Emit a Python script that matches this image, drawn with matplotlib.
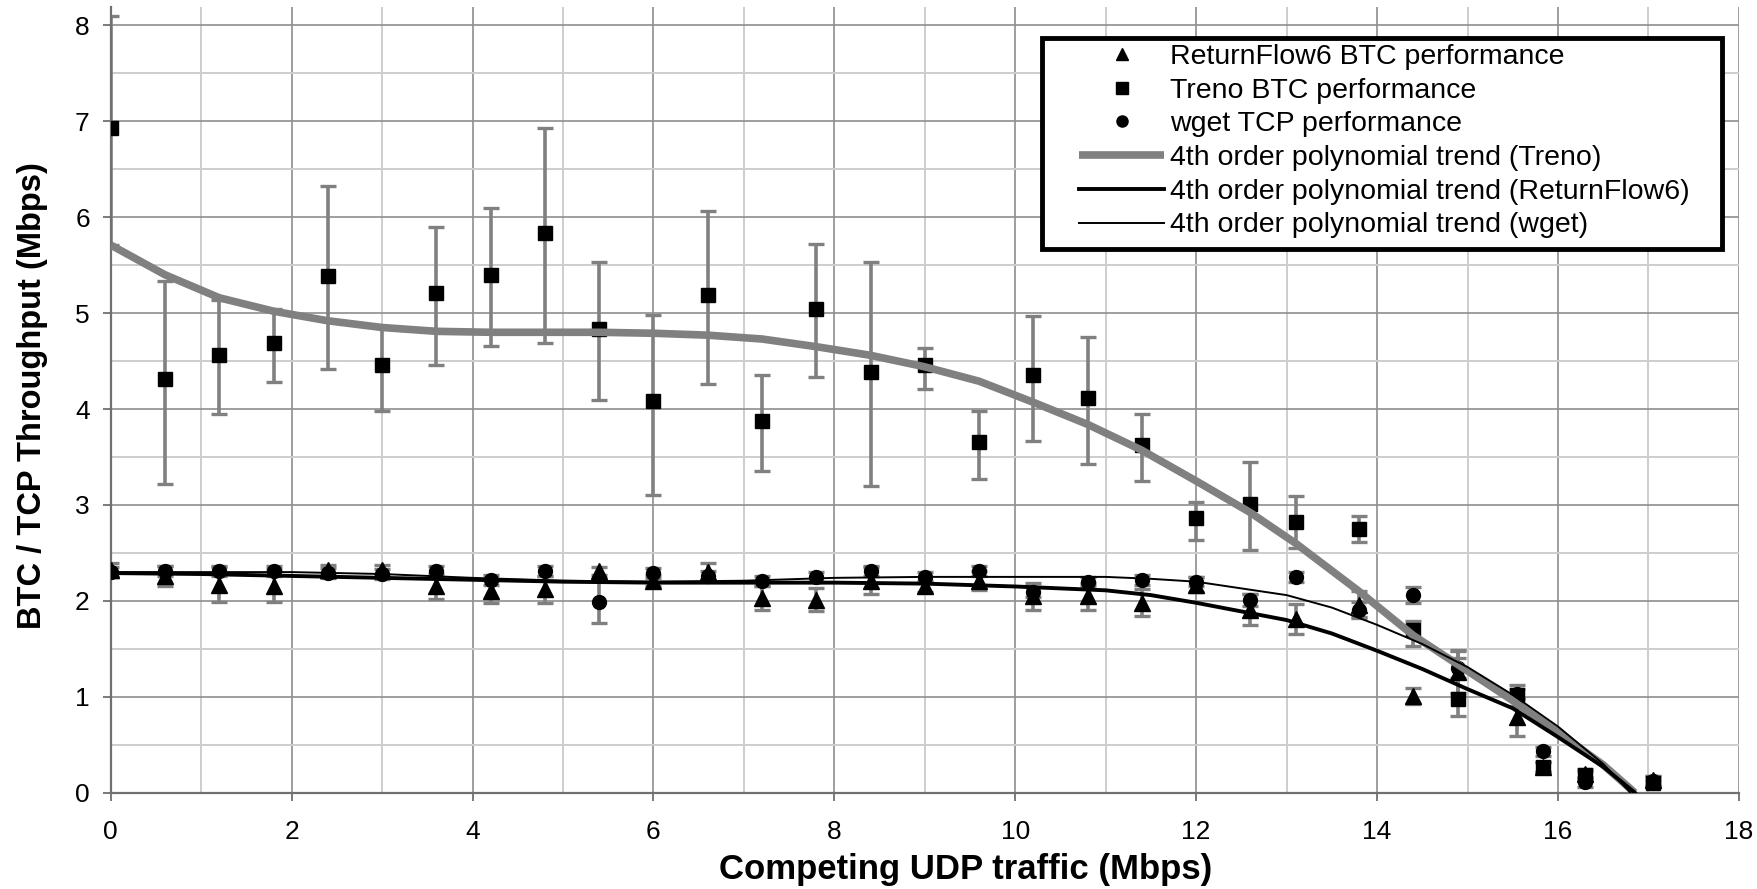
import numpy as np
import matplotlib.pyplot as plt
from matplotlib.lines import Line2D
from matplotlib.patches import Rectangle
from matplotlib.ticker import MultipleLocator

plt.rcParams['font.family'] = ['Liberation Sans', 'DejaVu Sans']

# trafico UDP (Mbps) de cada medicion
udp = [0, 0.6, 1.2, 1.8, 2.4, 3.0, 3.6, 4.2, 4.8, 5.4, 6.0, 6.6, 7.2, 7.8, 8.4,
       9.0, 9.6, 10.2, 10.8, 11.4, 12.0, 12.6, 13.1, 13.8, 14.4, 14.9, 15.55,
       15.83, 16.3, 17.05]

# Treno (cuadrados) con barras de error asimetricas
treno = [6.93, 4.31, 4.56, 4.69, 5.39, 4.46, 5.21, 5.40, 5.83, 4.83, 4.08, 5.19,
         3.88, 5.04, 4.39, 4.46, 3.66, 4.35, 4.11, 3.62, 2.86, 3.01, 2.82, 2.75,
         1.70, 0.98, 1.02, 0.27, 0.18, 0.10]
treno_lo = [5.71, 3.22, 3.95, 4.28, 4.42, 3.98, 4.46, 4.66, 4.69, 4.09, 3.10, 4.26,
            3.35, 4.33, 3.20, 4.21, 3.27, 3.67, 3.43, 3.25, 2.63, 2.53, 2.55, 2.61,
            1.53, 0.80, 0.90, 0.22, 0.13, 0.07]
treno_hi = [8.10, 5.33, 5.14, 5.04, 6.33, 4.85, 5.90, 6.10, 6.93, 5.53, 4.98, 6.06,
            4.35, 5.72, 5.53, 4.64, 3.98, 4.97, 4.75, 3.95, 3.03, 3.45, 3.09, 2.88,
            1.79, 1.49, 1.12, 0.32, 0.23, 0.13]

# ReturnFlow6 (triangulos)
rf6 = [2.32, 2.26, 2.17, 2.16, 2.32, 2.32, 2.15, 2.10, 2.12, 2.31, 2.21, 2.30,
       2.03, 2.01, 2.21, 2.15, 2.21, 2.05, 2.05, 1.98, 2.17, 1.91, 1.81, 1.96,
       1.01, 1.26, 0.79, 0.27, 0.20, 0.13]
rf6_err = [0.07, 0.10, 0.18, 0.17, 0.05, 0.05, 0.13, 0.12, 0.14, 0.04, 0.06, 0.09,
           0.12, 0.12, 0.14, 0.06, 0.10, 0.14, 0.14, 0.14, 0.08, 0.16, 0.16, 0.14,
           0.08, 0.22, 0.20, 0.05, 0.05, 0.04]

# wget (circulos)
wget = [2.30, 2.31, 2.31, 2.31, 2.29, 2.28, 2.31, 2.22, 2.31, 1.99, 2.29, 2.26,
        2.21, 2.25, 2.31, 2.25, 2.31, 2.09, 2.20, 2.22, 2.20, 2.01, 2.25, 1.91,
        2.06, 1.30, 1.03, 0.43, 0.11, 0.12]
wget_err = [0.05, 0.05, 0.05, 0.05, 0.05, 0.05, 0.05, 0.05, 0.05, 0.22, 0.05, 0.05,
            0.05, 0.05, 0.05, 0.05, 0.05, 0.05, 0.05, 0.05, 0.05, 0.06, 0.05, 0.08,
            0.08, 0.10, 0.05, 0.05, 0.05, 0.05]

# lineas de tendencia (polinomio 4to orden)
tr_treno_x = [0, 0.6, 1.2, 1.8, 2.4, 3.0, 3.6, 4.2, 4.8, 5.4, 6.0, 6.6, 7.2, 7.8,
              8.4, 9.0, 9.6, 10.2, 10.8, 11.4, 12.0, 12.6, 13.1, 13.8, 14.4, 15.0,
              15.5, 16.0, 16.5, 16.85]
tr_treno_y = [5.71, 5.40, 5.16, 5.02, 4.92, 4.85, 4.81, 4.80, 4.80, 4.80, 4.79, 4.77,
              4.73, 4.65, 4.56, 4.44, 4.29, 4.07, 3.84, 3.57, 3.25, 2.92, 2.60, 2.10,
              1.64, 1.27, 0.96, 0.63, 0.29, 0.0]
tr_rf6_x = [0, 1, 2, 3, 4, 5, 6, 7, 8, 9, 10, 11, 11.5, 12, 13, 13.5, 14, 14.5, 15,
            15.5, 16, 16.5, 16.85]
tr_rf6_y = [2.29, 2.28, 2.26, 2.24, 2.22, 2.20, 2.19, 2.19, 2.19, 2.18, 2.15, 2.11,
            2.06, 1.98, 1.80, 1.66, 1.48, 1.29, 1.08, 0.88, 0.58, 0.27, 0.0]
tr_wget_x = [0, 1, 2, 3, 4, 5, 6, 7, 8, 9, 10, 11, 11.5, 12, 13, 13.5, 14, 14.5, 15,
             15.5, 16, 16.5, 16.8]
tr_wget_y = [2.30, 2.30, 2.30, 2.28, 2.24, 2.21, 2.20, 2.21, 2.24, 2.25, 2.25, 2.25,
             2.23, 2.20, 2.06, 1.93, 1.75, 1.55, 1.31, 1.02, 0.69, 0.30, 0.0]

gris = '#808080'

fig = plt.figure(figsize=(17.57, 8.89), dpi=100)
ax = fig.add_axes([0.063, 0.1083, 0.9267, 0.8837])

x = np.array(udp)
t = np.array(treno)
ax.errorbar(x, t, yerr=[t - np.array(treno_lo), np.array(treno_hi) - t], fmt='none',
            ecolor=gris, elinewidth=2.6, capsize=5.5, capthick=2.4, zorder=2)
ax.errorbar(x, rf6, yerr=rf6_err, fmt='none', ecolor=gris, elinewidth=2.6,
            capsize=5.5, capthick=2.4, zorder=2)
ax.errorbar(x, wget, yerr=wget_err, fmt='none', ecolor=gris, elinewidth=2.6,
            capsize=5.5, capthick=2.4, zorder=2)

ax.plot(x, treno, 's', color='black', ms=10, zorder=3)
ax.plot(x, wget, 'o', color='black', ms=10, zorder=3)
ax.plot(x, rf6, '^', color='black', ms=11.5, zorder=3)

ax.plot(tr_treno_x, tr_treno_y, color=gris, lw=5.5, zorder=4, solid_capstyle='butt')
ax.plot(tr_rf6_x, tr_rf6_y, color='black', lw=2.8, zorder=5)
ax.plot(tr_wget_x, tr_wget_y, color='black', lw=1.4, zorder=5)

ax.set_xlim(0, 18)
ax.set_ylim(0, 8.19)
ax.xaxis.set_major_locator(MultipleLocator(2))
ax.xaxis.set_minor_locator(MultipleLocator(1))
ax.yaxis.set_major_locator(MultipleLocator(1))
ax.yaxis.set_minor_locator(MultipleLocator(0.5))
ax.grid(which='major', color='#8e8e8e', lw=1.2)
ax.grid(which='minor', color='#cdcdcd', lw=1.4)
ax.set_axisbelow(True)

for s in ['top', 'right']:
    ax.spines[s].set_visible(False)
for s in ['left', 'bottom']:
    ax.spines[s].set_color('#707070')
    ax.spines[s].set_linewidth(1.6)
ax.tick_params(which='major', direction='out', length=6, width=1.3, color='#707070',
               labelsize=19)
ax.tick_params(axis='x', which='major', pad=14)
ax.tick_params(axis='y', which='major', pad=9)
ax.tick_params(which='minor', length=0)

ax.set_xlabel('Competing UDP traffic (Mbps)', fontsize=25, fontweight='bold', va='center')
ax.xaxis.set_label_coords(0.525, -0.098)
ax.set_ylabel('BTC / TCP Throughput (Mbps)', fontsize=23.5, fontweight='bold', va='center')
ax.yaxis.set_label_coords(-0.048, 0.505)

# marco de la leyenda (dibujado aparte para dejar margen a la izquierda)
ax.add_patch(Rectangle((0.572, 0.692), 0.4176, 0.2686, transform=ax.transAxes,
                       facecolor='white', edgecolor='black', lw=3.5, zorder=9,
                       clip_on=False))

handles = [
    Line2D([], [], ls='none', marker='^', color='black', ms=9),
    Line2D([], [], ls='none', marker='s', color='black', ms=8),
    Line2D([], [], ls='none', marker='o', color='black', ms=8),
    Line2D([], [], color=gris, lw=5.5, solid_capstyle='butt'),
    Line2D([], [], color='black', lw=2.8),
    Line2D([], [], color='black', lw=1.4),
]
labels = ['ReturnFlow6 BTC performance', 'Treno BTC performance', 'wget TCP performance',
          '4th order polynomial trend (Treno)', '4th order polynomial trend (ReturnFlow6)',
          '4th order polynomial trend (wget)']
leg = ax.legend(handles, labels, loc='upper left', bbox_to_anchor=(0.5947, 0.953),
                fontsize=20.5, frameon=False, handlelength=3.0, handletextpad=0.2,
                labelspacing=0.27, borderpad=0, borderaxespad=0)
leg.set_zorder(10)

plt.savefig('out.png', dpi=100)
